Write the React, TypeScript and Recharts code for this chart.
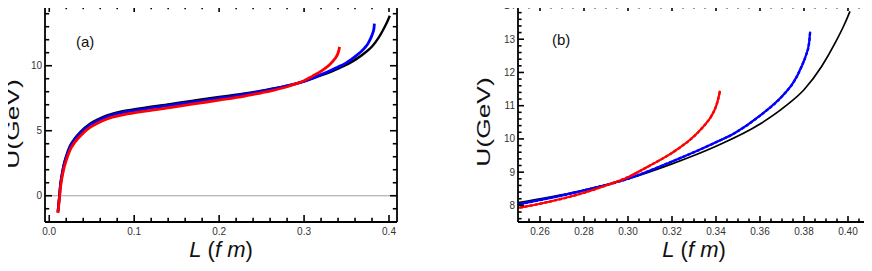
import { LineChart, Line, XAxis, YAxis, ReferenceLine } from "recharts";

// L (fm) and U (GeV), one pair of arrays per curve
const L_BLACK = [0.0102, 0.0112, 0.0121, 0.013, 0.0145, 0.0169, 0.02, 0.0247, 0.03, 0.0365, 0.048, 0.058, 0.068, 0.085, 0.107, 0.142, 0.17, 0.2, 0.23, 0.25, 0.28, 0.3, 0.32, 0.34, 0.36, 0.3714, 0.38, 0.388, 0.3941, 0.3986, 0.4009];
const U_BLACK = [-1.2, -0.5, 0.1, 0.8, 1.5, 2.35, 3.07, 3.88, 4.4, 4.9, 5.54, 5.9, 6.18, 6.48, 6.72, 7.05, 7.32, 7.6, 7.86, 8.08, 8.46, 8.8, 9.25, 9.78, 10.45, 10.98, 11.48, 12.18, 12.88, 13.48, 13.84];

const L_BLUE = [0.0102, 0.0112, 0.0121, 0.013, 0.0145, 0.0169, 0.02, 0.0247, 0.03, 0.0365, 0.048, 0.058, 0.068, 0.085, 0.107, 0.142, 0.17, 0.2, 0.23, 0.25, 0.28, 0.3, 0.32, 0.34, 0.3486, 0.36, 0.3714, 0.3752, 0.3789, 0.3808, 0.3823, 0.3828];
const U_BLUE = [-1.28, -0.6, 0, 0.7, 1.4, 2.23, 2.95, 3.77, 4.3, 4.8, 5.44, 5.8, 6.08, 6.38, 6.62, 6.95, 7.22, 7.5, 7.79, 8.03, 8.45, 8.8, 9.32, 9.9, 10.18, 10.7, 11.38, 11.7, 12.18, 12.5, 12.88, 13.23];

const L_RED = [0.0102, 0.0112, 0.0121, 0.013, 0.0145, 0.0169, 0.02, 0.0247, 0.03, 0.0365, 0.048, 0.058, 0.068, 0.085, 0.107, 0.142, 0.17, 0.2, 0.23, 0.25, 0.26, 0.28, 0.29, 0.3, 0.31, 0.32, 0.33, 0.335, 0.338, 0.34, 0.341, 0.3418];
const U_RED = [-1.32, -0.7, -0.15, 0.5, 1.2, 2.0, 2.72, 3.55, 4.1, 4.6, 5.25, 5.62, 5.9, 6.2, 6.45, 6.78, 7.06, 7.35, 7.66, 7.92, 8.05, 8.38, 8.6, 8.85, 9.2, 9.58, 10.08, 10.43, 10.7, 10.98, 11.2, 11.45];

// ticks
const A_X_MAJOR = [0, 0.1, 0.2, 0.3, 0.4];
const A_Y_MAJOR = [0, 5, 10];
const B_X_MAJOR = [0.26, 0.28, 0.3, 0.32, 0.34, 0.36, 0.38, 0.4];
const B_Y_MAJOR = [8, 9, 10, 11, 12, 13, 14];

const steps = (from: number, to: number, step: number) => {
  const out: number[] = [];
  for (let v = from; v <= to + 1e-9; v += step) out.push(Math.round(v * 10000) / 10000);
  return out;
};

const A_X_TICKS = steps(0, 0.4, 0.02);
const A_Y_TICKS = steps(-1, 14, 1);
const B_X_TICKS = steps(0.255, 0.405, 0.005);
const B_Y_TICKS = steps(7.6, 14, 0.2);

const zip = (ls: number[], us: number[]) => ls.map((l, i) => ({ l, u: us[i] }));
const black = zip(L_BLACK, U_BLACK);
const blue = zip(L_BLUE, U_BLUE);
const red = zip(L_RED, U_RED);

const FONT = "Liberation Sans, Arial, sans-serif";

type Side = "bottom" | "top" | "left" | "right";

// inward frame ticks (Mathematica style); labels only on bottom/left majors
function tickRenderer(side: Side, major: number[], len: number, fmt?: (v: number) => string) {
  return (props: any) => {
    const { x, y, payload } = props;
    const v = payload.value;
    const isMajor = major.some((m) => Math.abs(m - v) < 1e-9);
    const l = isMajor ? len : len * 0.6;
    let x2 = x;
    let y2 = y;
    if (side === "bottom") y2 = y - l;
    if (side === "top") y2 = y + l;
    if (side === "left") x2 = x + l;
    if (side === "right") x2 = x - l;
    return (
      <g>
        <line x1={x} y1={y} x2={x2} y2={y2} stroke="#000" strokeWidth={1.6} />
        {fmt && isMajor && side === "bottom" && (
          <text x={x} y={y + 13} textAnchor="middle" fontSize={10} fill="#333" fontFamily={FONT}>
            {fmt(v)}
          </text>
        )}
        {fmt && isMajor && side === "left" && (
          <text x={x - 3} y={y + 3.5} textAnchor="end" fontSize={10} fill="#333" fontFamily={FONT}>
            {fmt(v)}
          </text>
        )}
      </g>
    );
  };
}

type Series = { data: { l: number; u: number }[]; color: string; width: number; dashed?: boolean };

interface PanelProps {
  width: number;
  margin: { top: number; right: number; bottom: number; left: number };
  xDomain: [number, number];
  yDomain: [number, number];
  xTicks: number[];
  yTicks: number[];
  xMajor: number[];
  yMajor: number[];
  xFmt: (v: number) => string;
  yFmt: (v: number) => string;
  series: Series[];
  zeroLine?: boolean;
  tickLen: number;
}

function Panel(p: PanelProps) {
  const frame = { stroke: "#000", strokeWidth: 1.8 };
  const common = { type: "number" as const, allowDataOverflow: true, interval: 0 as const, tickSize: 0, tickMargin: 0, tickLine: false, axisLine: frame };
  return (
    <LineChart width={p.width} height={271} margin={p.margin}>
      <XAxis xAxisId="b" orientation="bottom" dataKey="l" domain={p.xDomain} ticks={p.xTicks} height={1} {...common} tick={tickRenderer("bottom", p.xMajor, p.tickLen, p.xFmt)} />
      <XAxis xAxisId="t" orientation="top" dataKey="l" domain={p.xDomain} ticks={p.xTicks} height={1} {...common} tick={tickRenderer("top", p.xMajor, p.tickLen)} />
      <YAxis yAxisId="l" orientation="left" dataKey="u" domain={p.yDomain} ticks={p.yTicks} width={1} {...common} tick={tickRenderer("left", p.yMajor, p.tickLen, p.yFmt)} />
      <YAxis yAxisId="r" orientation="right" dataKey="u" domain={p.yDomain} ticks={p.yTicks} width={1} {...common} tick={tickRenderer("right", p.yMajor, p.tickLen)} />
      {p.zeroLine && <ReferenceLine xAxisId="b" yAxisId="l" y={0} stroke="#a0a0a0" strokeWidth={1.2} />}
      {p.series.map((s, i) => (
        <Line
          key={i}
          xAxisId="b"
          yAxisId="l"
          data={s.data}
          dataKey="u"
          type="monotone"
          stroke={s.color}
          strokeWidth={s.width}
          strokeDasharray={s.dashed ? "3 2" : undefined}
          dot={false}
          activeDot={false}
          isAnimationActive={false}
        />
      ))}
    </LineChart>
  );
}

export default function App() {
  const seriesA: Series[] = [
    { data: black, color: "#000000", width: 2.4 },
    { data: blue, color: "#0000ff", width: 2.8 },
    { data: red, color: "#ff0000", width: 2.8 },
  ];
  const seriesB: Series[] = [
    { data: black, color: "#000000", width: 1.7 },
    { data: blue, color: "#0000ff", width: 2.2 },
    { data: blue, color: "#0000ff", width: 2.4, dashed: true },
    { data: red, color: "#ff0000", width: 2.2 },
    { data: red, color: "#ff0000", width: 2.4, dashed: true },
  ];
  return (
    <div style={{ position: "relative", width: 872, height: 271, margin: -8, background: "#fff", fontFamily: FONT }}>
      <div style={{ position: "absolute", left: 0, top: 0 }}>
        <Panel
          width={420}
          margin={{ top: 4, right: 22, bottom: 48, left: 44 }}
          xDomain={[-0.005, 0.4094]}
          yDomain={[-2.02, 14.67]}
          xTicks={A_X_TICKS}
          yTicks={A_Y_TICKS}
          xMajor={A_X_MAJOR}
          yMajor={A_Y_MAJOR}
          xFmt={(v) => v.toFixed(1)}
          yFmt={(v) => String(v)}
          series={seriesA}
          zeroLine
          tickLen={7}
        />
      </div>
      <div style={{ position: "absolute", left: 440, top: 0 }}>
        <Panel
          width={432}
          margin={{ top: 4, right: 1, bottom: 48, left: 77 }}
          xDomain={[0.25, 0.41]}
          yDomain={[7.5, 14.03]}
          xTicks={B_X_TICKS}
          yTicks={B_Y_TICKS}
          xMajor={B_X_MAJOR}
          yMajor={B_Y_MAJOR}
          xFmt={(v) => v.toFixed(2)}
          yFmt={(v) => String(v)}
          series={seriesB}
          tickLen={6}
        />
      </div>
      <svg width={872} height={271} style={{ position: "absolute", left: 0, top: 0, pointerEvents: "none" }} fontFamily={FONT}>
        <text transform="translate(13,124) rotate(-90) scale(1.2,0.8)" textAnchor="middle" dominantBaseline="central" fontSize={22} fill="#111">
          U(GeV)
        </text>
        <text transform="translate(484,122) rotate(-90) scale(1.2,0.8)" textAnchor="middle" dominantBaseline="central" fontSize={22} fill="#111">
          U(GeV)
        </text>
        <text x={221} y={257} textAnchor="middle" fontSize={22} fill="#111">
          <tspan fontStyle="italic">L</tspan> (<tspan fontStyle="italic">f m</tspan>)
        </text>
        <text x={694} y={257} textAnchor="middle" fontSize={22} fill="#111">
          <tspan fontStyle="italic">L</tspan> (<tspan fontStyle="italic">f m</tspan>)
        </text>
        <text x={76} y={47} fontSize={15} fill="#111">
          (a)
        </text>
        <text x={552} y={45} fontSize={15} fill="#111">
          (b)
        </text>
      </svg>
    </div>
  );
}
